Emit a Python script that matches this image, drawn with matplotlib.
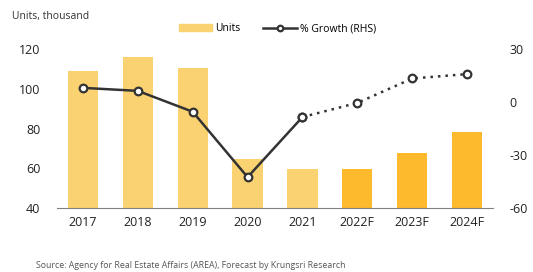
import numpy as np
import matplotlib.pyplot as plt
from matplotlib.patches import Patch
from matplotlib.lines import Line2D

plt.rcParams['font.family'] = ['Open Sans', 'DejaVu Sans']
plt.rcParams['axes.unicode_minus'] = False

years = ['2017', '2018', '2019', '2020', '2021', '2022F', '2023F', '2024F']
units = [109, 116, 110.5, 64.5, 59.5, 59.5, 67.5, 78.5]
growth = [8, 6.3, -5.5, -42.5, -8.5, -0.5, 13.3, 15.8]

light = '#FAD271'
dark = '#FDBA2C'
colors = [light] * 5 + [dark] * 3
line_col = '#333333'

fig = plt.figure(figsize=(5.33, 2.72), dpi=100)
ax = fig.add_axes([0.107, 0.235, 0.818, 0.585])
x = np.arange(len(years))

ax.bar(x, units, width=0.55, color=colors, zorder=2)
ax.set_ylim(40, 120)
ax.set_yticks([40, 60, 80, 100, 120])
ax.set_xlim(-0.47, 7.47)
ax.set_xticks(x)
ax.set_xticklabels(years)
for s in ['top', 'right', 'left']:
    ax.spines[s].set_visible(False)
ax.spines['bottom'].set_color('#808080')
ax.tick_params(axis='both', length=0, labelsize=9, colors='#222222')
ax.tick_params(axis='x', pad=6)
ax.tick_params(axis='y', pad=12)

ax2 = ax.twinx()
ax2.set_ylim(-60, 30)
ax2.set_yticks([-60, -30, 0, 30])
for s in ax2.spines.values():
    s.set_visible(False)
ax2.tick_params(axis='y', length=0, labelsize=9, colors='#222222', pad=12)

mk = dict(marker='o', markersize=5.5, markerfacecolor='white',
          markeredgecolor=line_col, markeredgewidth=1.6, color=line_col, zorder=3)
ax2.plot(x[:5], growth[:5], lw=1.8, **mk)
ax2.plot(x[4:], growth[4:], lw=1.8, ls=(0, (1, 2)), **mk)

# legend
h = [Patch(color=light), Line2D([], [], lw=1.8, **{**mk, 'markersize': 4})]
fig.legend(h, ['Units', '% Growth (RHS)'], loc='center', bbox_to_anchor=(0.52, 0.895),
           ncol=2, frameon=False, fontsize=7.5, handlelength=3.2, handleheight=0.6,
           columnspacing=2.2, handletextpad=0.3)

fig.text(0.022, 0.94, 'Units, thousand', fontsize=7.5, color='#333333', va='center')
fig.text(0.068, 0.025, 'Source: Agency for Real Estate Affairs (AREA), Forecast by Krungsri Research',
         fontsize=6.3, color='#555555', va='center')

fig.savefig('out.png', dpi=100)
